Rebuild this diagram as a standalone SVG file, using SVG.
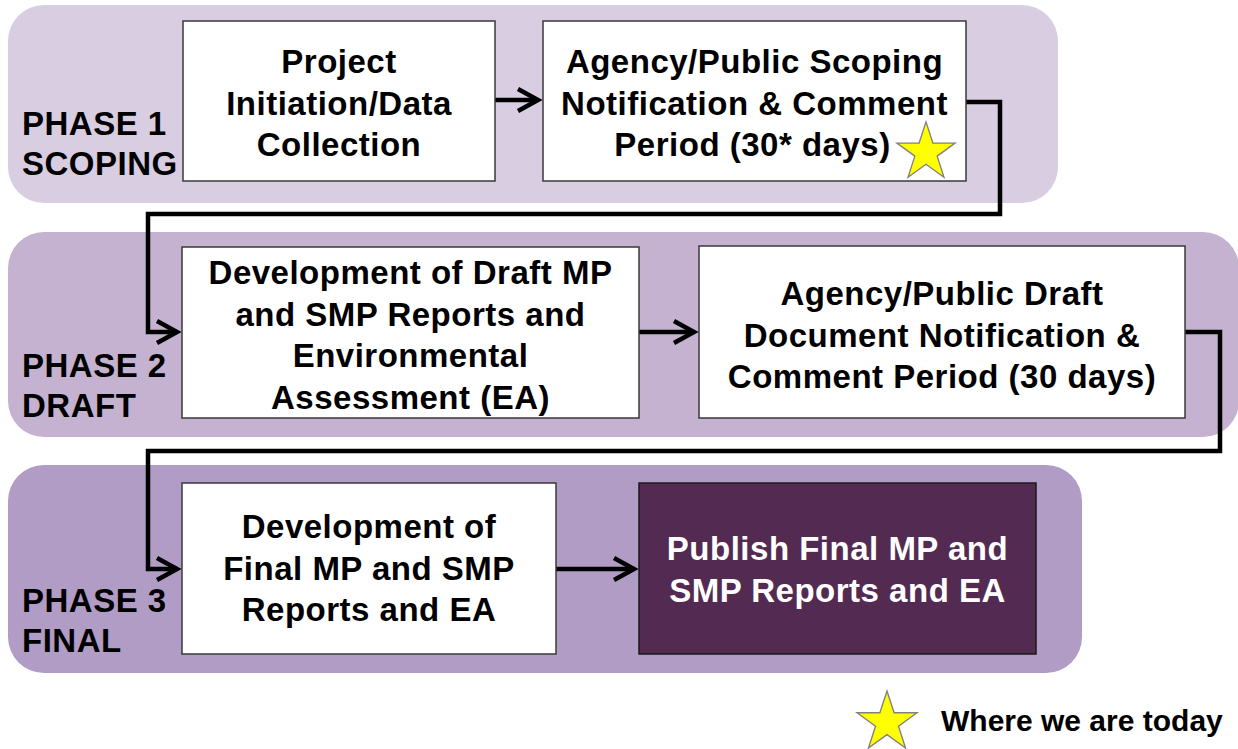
<svg xmlns="http://www.w3.org/2000/svg" width="1238" height="749" viewBox="0 0 1238 749">
<defs>
<style>
.band{stroke:none}
.box{fill:#ffffff;stroke:#3a3a3a;stroke-width:1.5}
.dark{fill:#532a52;stroke:#1a1a1a;stroke-width:1.5}
.t{font-family:"Liberation Sans",Arial,sans-serif;font-weight:bold;font-size:33px;letter-spacing:0.5px;fill:#000}
.tm{text-anchor:middle}
.tw{fill:#ffffff}
.leg{font-family:"Liberation Sans",Arial,sans-serif;font-weight:bold;font-size:30px;fill:#000}
.conn{fill:none;stroke:#000;stroke-width:4.5;stroke-linejoin:miter}
.star{fill:#ffff00;stroke:#808080;stroke-width:1.3}
</style>
<marker id="arr" markerUnits="userSpaceOnUse" viewBox="-26 -16 34 32" refX="0" refY="0" markerWidth="34" markerHeight="32" orient="auto" overflow="visible">
<path d="M-20,-11 L0,0 L-20,11" fill="none" stroke="#000" stroke-width="4.5" stroke-linejoin="miter"/>
</marker>
<polygon id="starShape" points="0,-30 6.76,-9.3 28.53,-9.27 10.94,3.55 17.63,24.27 0,11.5 -17.63,24.27 -10.94,3.55 -28.53,-9.27 -6.76,-9.3"/>
</defs>

<g id="phase1">
<rect class="band" x="8" y="5" width="1050" height="198" rx="36" ry="36" fill="#d9cde1"/>
<text class="t" x="22" y="135">PHASE 1</text><text class="t" x="22" y="175">SCOPING</text>
</g>
<g id="phase2">
<rect class="band" x="8" y="232" width="1231" height="205" rx="36" ry="36" fill="#c4b2d0"/>
<text class="t" x="22" y="377">PHASE 2</text><text class="t" x="22" y="417">DRAFT</text>
</g>
<g id="phase3">
<rect class="band" x="8" y="465" width="1074" height="208" rx="36" ry="36" fill="#b09cc4"/>
<text class="t" x="22" y="612">PHASE 3</text><text class="t" x="22" y="652">FINAL</text>
</g>

<g id="connectors">
<path class="conn" d="M495,100 H538" marker-end="url(#arr)"/>
<path class="conn" d="M966,102 H1000 V214 H148 V332 H177" marker-end="url(#arr)"/>
<path class="conn" d="M639,332 H694" marker-end="url(#arr)"/>
<path class="conn" d="M1185,332 H1220 V451 H148 V569 H177" marker-end="url(#arr)"/>
<path class="conn" d="M556,569 H634" marker-end="url(#arr)"/>
</g>

<g id="n1">
<rect class="box" x="183" y="21" width="312" height="160"/>
<text class="t tm" x="339" y="73">Project</text><text class="t tm" x="339" y="114.5">Initiation/Data</text><text class="t tm" x="339" y="156">Collection</text>
</g>
<g id="n2">
<rect class="box" x="543" y="21" width="423" height="160"/>
<text class="t tm" x="754.5" y="73">Agency/Public Scoping</text><text class="t tm" x="754.5" y="114.5">Notification &amp; Comment</text><text class="t tm" x="752.5" y="156">Period (30* days)</text>
<use href="#starShape" class="star" transform="translate(926,152.5) scale(1.02)"/>
</g>
<g id="n3">
<rect class="box" x="182" y="247" width="457" height="171"/>
<text class="t tm" x="410.5" y="284">Development of Draft MP</text><text class="t tm" x="410.5" y="325.5">and SMP Reports and</text><text class="t tm" x="410.5" y="367">Environmental</text><text class="t tm" x="410.5" y="408.5">Assessment (EA)</text>
</g>
<g id="n4">
<rect class="box" x="699" y="246" width="486" height="172"/>
<text class="t tm" x="942" y="305">Agency/Public Draft</text><text class="t tm" x="942" y="346.5">Document Notification &amp;</text><text class="t tm" x="942" y="388">Comment Period (30 days)</text>
</g>
<g id="n5">
<rect class="box" x="182" y="483" width="374" height="171"/>
<text class="t tm" x="369" y="538">Development of</text><text class="t tm" x="369" y="579.5">Final MP and SMP</text><text class="t tm" x="369" y="621">Reports and EA</text>
</g>
<g id="n6">
<rect class="dark" x="639" y="483" width="397" height="171"/>
<text class="t tm tw" x="837.5" y="560">Publish Final MP and</text><text class="t tm tw" x="837.5" y="601.5">SMP Reports and EA</text>
</g>

<g id="legend">
<use href="#starShape" class="star" transform="translate(887,722.5) scale(1.05)"/>
<text class="leg" x="941" y="731">Where we are today</text>
</g>
</svg>
